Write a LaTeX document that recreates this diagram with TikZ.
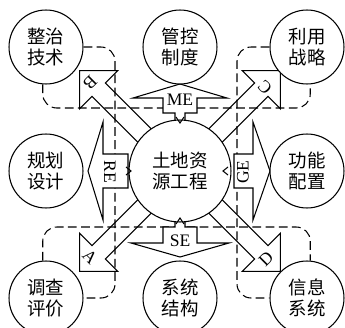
\documentclass[tikz,border=0pt]{standalone}
\usepackage{fontspec}
\setmainfont{Liberation Serif}
\newfontfamily\cjk{Noto Sans CJK SC}
\usetikzlibrary{backgrounds}

\tikzstyle{ring}=[draw=black, line width=.6pt, circle, fill=white, minimum size=1.48cm, inner sep=0pt, align=center, font=\cjk\fontsize{10.5pt}{12pt}\selectfont]
\tikzstyle{guide}=[draw=black, line width=.6pt, dash pattern=on 5pt off 2.5pt, rounded corners=8pt]
\tikzstyle{block}=[draw=black, line width=.6pt, fill=white]
\tikzstyle{hollow}=[draw=black, line width=.6pt]
\tikzstyle{tag}=[font=\fontsize{10pt}{12pt}\selectfont, inner sep=0pt]

\begin{document}
\begin{tikzpicture}[x=.02cm, y=-.02cm, line width=.6pt]
	\useasboundingbox (0,0) rectangle (345,328);
	%circles
	\node[ring, minimum size=2.04cm] (td) at (180,171) {土地资\\源工程};
	\node[ring] (zz) at (46,47) {整治\\技术};
	\node[ring] (gk) at (180,47) {管控\\制度};
	\node[ring] (ly) at (307,47) {利用\\战略};
	\node[ring] (gh) at (46,171) {规划\\设计};
	\node[ring] (gn) at (307,171) {功能\\配置};
	\node[ring] (dc) at (46,298) {调查\\评价};
	\node[ring] (xt) at (180,298) {系统\\结构};
	\node[ring] (xx) at (307,298) {信息\\系统};
	
	\begin{scope}[on background layer]
	%dashed links
	\draw[guide] (zz.265) |- (180,108) -| (ly.275);
	\draw[guide] (dc.95) |- (180,227) -| (xx.85);
	\draw[guide] (zz.east) -| (115,171) |- (dc.east);
	\draw[guide] (ly.west) -| (237,171) |- (xx.west);
	%arrows up, left, right, down
	\draw[block] (175,121) -- (175,113) -- (163,113) -- (163,98) -- (133,98)
	-- (180,84) -- (227,98) -- (197,98) -- (197,113) -- (185,113) -- (185,121);
	\draw[block] (128,154) -- (103,154) -- (103,122) -- (88,171)
	-- (103,220) -- (103,188) -- (128,188) -- cycle;
	\draw[block] (234,154) -- (253,154) -- (253,122) -- (270,171)
	-- (253,220) -- (253,188) -- (234,188) -- cycle;
	\draw[block] (175,221) -- (175,227) -- (163,227) -- (163,243) -- (131,243)
	-- (180,257) -- (229,243) -- (197,243) -- (197,227) -- (185,227) -- (185,221);
	%diagonal arrows
	\foreach \ang in {135,45,-45,-135}
	\draw[hollow, shift={(180,171)}, rotate=\ang]
	(45,9.5) -- (115,9.5) -- (115,27) -- (142,0) -- (115,-27) -- (115,-9.5) -- (45,-9.5);
	\end{scope}
	
	%small tips on the centre circle
	\draw (176,117) -- (180,123) -- (184,117);
	\draw (126,167) -- (131,171) -- (126,175);
	\draw (228,167) -- (223,171) -- (228,175);
	\draw (176,224) -- (180,218) -- (184,224);
	
	%labels
	\node[tag] (me) at (180,100) {ME};
	\node[tag] (se) at (180,241) {SE};
	\node[tag, rotate=-90] (re) at (110,172) {RE};
	\node[tag, rotate=90] (ge) at (243,172) {GE};
	\foreach \lab/\px/\py/\rot in {B/90/83/-135, C/265/87/135, D/266/259/45, A/90/257/-45}
	\node[tag, rotate=\rot] (lab\lab) at (\px,\py) {\lab};
\end{tikzpicture}
\end{document}
